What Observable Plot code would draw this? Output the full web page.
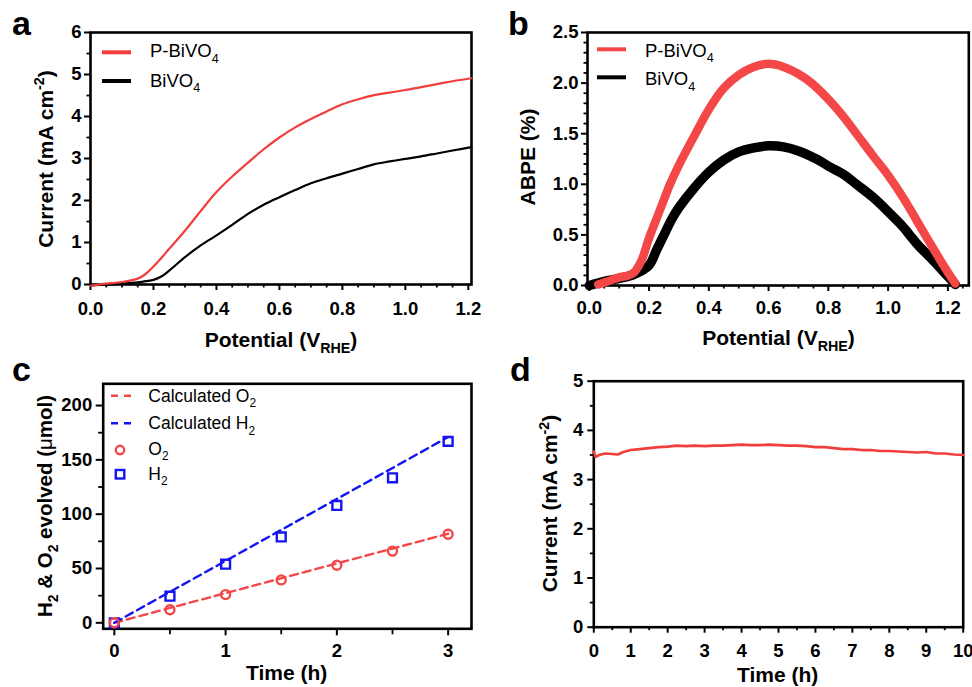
<!DOCTYPE html>
<html><head><meta charset="utf-8">
<script src="https://cdn.jsdelivr.net/npm/d3@7"></script>
<script src="https://cdn.jsdelivr.net/npm/@observablehq/plot@0.6"></script>
<style>
body{margin:0;background:#fff;}
#fig{position:relative;width:972px;height:687px;overflow:hidden;background:#fff;}
#fig svg{position:absolute;left:0;top:0;}
</style></head><body><div id="fig"></div><script>
// ---------- Panel a: J-V curves ----------
const potA = [0, 0.05, 0.1, 0.15, 0.175, 0.2, 0.225, 0.25, 0.3, 0.35, 0.4, 0.45, 0.5, 0.55, 0.6, 0.65, 0.7, 0.75, 0.8, 0.85, 0.9, 0.95, 1.0, 1.05, 1.1, 1.15, 1.21];
const currentP = [-0.03, 0.02, 0.06, 0.14, 0.25, 0.43, 0.63, 0.85, 1.28, 1.75, 2.2, 2.57, 2.9, 3.22, 3.5, 3.74, 3.94, 4.12, 4.29, 4.41, 4.51, 4.57, 4.63, 4.7, 4.77, 4.84, 4.91];
const currentB = [-0.02, 0.0, 0.02, 0.05, 0.08, 0.11, 0.19, 0.33, 0.65, 0.93, 1.17, 1.42, 1.68, 1.9, 2.08, 2.25, 2.41, 2.53, 2.64, 2.75, 2.86, 2.93, 2.99, 3.05, 3.12, 3.19, 3.27];

// ---------- Panel b: ABPE ----------
const potBP = [0.03, 0.07, 0.1, 0.13, 0.15, 0.175, 0.2, 0.225, 0.25, 0.27, 0.3, 0.35, 0.4, 0.45, 0.5, 0.55, 0.6, 0.65, 0.7, 0.744, 0.8, 0.85, 0.894, 0.95, 1.0, 1.05, 1.1, 1.15, 1.2, 1.225];
const abpeP = [0.01, 0.05, 0.08, 0.1, 0.13, 0.25, 0.47, 0.66, 0.85, 1.0, 1.19, 1.47, 1.74, 1.95, 2.08, 2.16, 2.19, 2.16, 2.09, 2.0, 1.84, 1.67, 1.5, 1.28, 1.09, 0.87, 0.62, 0.37, 0.13, 0.02];
const potBB = [0.0, 0.05, 0.1, 0.15, 0.2, 0.225, 0.25, 0.275, 0.3, 0.35, 0.4, 0.45, 0.5, 0.55, 0.6, 0.65, 0.7, 0.76, 0.8, 0.85, 0.894, 0.95, 1.0, 1.05, 1.072, 1.1, 1.15, 1.2, 1.225];
const abpeB = [0.0, 0.04, 0.07, 0.11, 0.2, 0.35, 0.5, 0.65, 0.77, 0.96, 1.12, 1.24, 1.32, 1.36, 1.38, 1.37, 1.33, 1.25, 1.18, 1.1, 1.0, 0.87, 0.73, 0.58, 0.5, 0.4, 0.25, 0.09, 0.01];

// ---------- Panel c: gas evolution ----------
const timeC = [0, 0.5, 1, 1.5, 2, 2.5, 3];
const o2Measured = [0, 12, 26, 39.5, 53, 66, 81.5];
const h2Measured = [0, 24.5, 54, 79, 108, 133.5, 167];
const calcTime = [0, 3];
const o2Calc = [0, 82];
const h2Calc = [0, 171];

// ---------- Panel d: stability ----------
const timeD = [0, 0.05, 0.15, 0.3, 0.5, 0.65, 0.8, 1.0, 1.25, 1.5, 1.75, 2.0, 2.25, 2.5, 2.75, 3.0, 3.25, 3.5, 3.75, 4.0, 4.25, 4.5, 4.75, 5.0, 5.25, 5.5, 5.75, 6.0, 6.25, 6.5, 6.75, 7.0, 7.25, 7.5, 7.75, 8.0, 8.25, 8.5, 8.75, 9.0, 9.25, 9.5, 9.75, 10.0];
const currentD = [3.57, 3.46, 3.5, 3.53, 3.52, 3.51, 3.56, 3.6, 3.62, 3.64, 3.66, 3.67, 3.69, 3.68, 3.69, 3.68, 3.69, 3.69, 3.7, 3.71, 3.7, 3.7, 3.71, 3.7, 3.69, 3.69, 3.68, 3.66, 3.66, 3.64, 3.62, 3.62, 3.6, 3.6, 3.58, 3.58, 3.57, 3.56, 3.55, 3.56, 3.53, 3.53, 3.51, 3.5];

// tick values
const ticksA_x = [0, 0.2, 0.4, 0.6, 0.8, 1.0, 1.2];
const ticksA_xm = d3.range(0, 1.21, 0.05).filter(v => Math.abs(v*5 - Math.round(v*5)) > 1e-6);
const ticksB_xm = d3.range(0.05, 1.27, 0.05).filter(v => Math.abs(v*5 - Math.round(v*5)) > 1e-6);
const ticksA_y = [0, 1, 2, 3, 4, 5, 6];
const ticksA_ym = [0.5, 1.5, 2.5, 3.5, 4.5, 5.5];
const ticksB_y = [0, 0.5, 1.0, 1.5, 2.0, 2.5];
const ticksB_ym = d3.range(0.1, 2.5, 0.1).filter(v => Math.abs(v*2 - Math.round(v*2)) > 1e-6);
const ticksC_x = [0, 1, 2, 3];
const ticksC_xm = [0.5, 1.5, 2.5];
const ticksC_y = [0, 50, 100, 150, 200];
const ticksC_ym = [25, 75, 125, 175];
const ticksD_x = [0, 1, 2, 3, 4, 5, 6, 7, 8, 9, 10];
const ticksD_xm = [0.5, 1.5, 2.5, 3.5, 4.5, 5.5, 6.5, 7.5, 8.5, 9.5];
const ticksD_y = [0, 1, 2, 3, 4, 5];
const ticksD_ym = [0.5, 1.5, 2.5, 3.5, 4.5];

const FONT = '"Liberation Sans", Arial, Helvetica, sans-serif';
const RED = "#f23d3d", RED2 = "#f44848", BLUE = "#1414f0";

function panel(o) {
  return Plot.plot({
    width: 972, height: 687,
    marginLeft: o.ml, marginRight: o.mr, marginTop: o.mt, marginBottom: o.mb,
    style: {fontFamily: FONT, fontSize: "18px", fontWeight: "bold", background: "transparent", overflow: "visible", color: "black"},
    x: {domain: o.xd, label: null},
    y: {domain: o.yd, label: null},
    marks: [
      Plot.axisX({ticks: o.xm, tickSize: o.xt[2], tickFormat: () => "", strokeWidth: 1.8, label: null}),
      Plot.axisX({ticks: o.xM, tickSize: o.xt[0], tickPadding: o.xt[1], tickFormat: o.xf, strokeWidth: 2, label: null, fontSize: 18, fontWeight: "bold"}),
      Plot.axisY({ticks: o.ym, tickSize: o.yt[2], tickFormat: () => "", strokeWidth: 1.8, label: null}),
      Plot.axisY({ticks: o.yM, tickSize: o.yt[0], tickPadding: o.yt[1], tickFormat: o.yf, strokeWidth: 2, label: null, fontSize: 18, fontWeight: "bold"}),
      Plot.frame({stroke: "black", strokeWidth: 2.6}),
      ...o.marks
    ]
  });
}

const fig = document.getElementById("fig");
const f1 = d => d.toFixed(1);
const f0 = d => String(d);

fig.appendChild(panel({
  ml: 90, mr: 501, mt: 32, mb: 403, xd: [0, 1.21], yd: [0, 6],
  xM: ticksA_x, xm: ticksA_xm, yM: ticksA_y, ym: ticksA_ym, xf: f1, yf: f0,
  xt: [6, 11, 3.5], yt: [6, 3, 3.5],
  marks: [
    Plot.line(currentB, {x: potA, y: currentB, stroke: "black", strokeWidth: 2.2, curve: "catmull-rom"}),
    Plot.line(currentP, {x: potA, y: currentP, stroke: RED, strokeWidth: 2.2, curve: "catmull-rom"})
  ]
}));

fig.appendChild(panel({
  ml: 587, mr: 3.7, mt: 32, mb: 402, xd: [-0.006, 1.27], yd: [0, 2.5],
  xM: ticksA_x, xm: ticksB_xm, yM: ticksB_y, ym: ticksB_ym, xf: f1, yf: f1,
  xt: [6, 9, 3.5], yt: [6, 3, 3.5],
  marks: [
    Plot.line(abpeB, {x: potBB, y: abpeB, stroke: "black", strokeWidth: 9.5, curve: "catmull-rom", strokeLinecap: "round", strokeLinejoin: "round"}),
    Plot.line(abpeP, {x: potBP, y: abpeP, stroke: RED2, strokeWidth: 8.5, curve: "catmull-rom", strokeLinecap: "round", strokeLinejoin: "round"})
  ]
}));

fig.appendChild(panel({
  ml: 102.7, mr: 501, mt: 383.3, mb: 58.7, xd: [-0.1, 3.21], yd: [-5.5, 220],
  xM: ticksC_x, xm: ticksC_xm, yM: ticksC_y, ym: ticksC_ym, xf: f0, yf: f0,
  xt: [7, 8, 6], yt: [7, 4, 4.5],
  marks: [
    Plot.line(o2Calc, {x: calcTime, y: o2Calc, stroke: RED2, strokeWidth: 2.4, strokeDasharray: "8,5"}),
    Plot.line(h2Calc, {x: calcTime, y: h2Calc, stroke: BLUE, strokeWidth: 2.4, strokeDasharray: "8,5"}),
    Plot.dot(h2Measured, {x: timeC, y: h2Measured, symbol: "square", r: 5, stroke: BLUE, strokeWidth: 2.4, fill: "none"}),
    Plot.dot(o2Measured, {x: timeC, y: o2Measured, symbol: "circle", r: 4.5, stroke: RED2, strokeWidth: 2.4, fill: "none"})
  ]
}));

fig.appendChild(panel({
  ml: 593.3, mr: 9.3, mt: 380.7, mb: 60.3, xd: [0, 10], yd: [0, 5],
  xM: ticksD_x, xm: ticksD_xm, yM: ticksD_y, ym: ticksD_ym, xf: f0, yf: f0,
  xt: [6, 10.5, 3.5], yt: [6, 4.5, 3.5],
  marks: [
    Plot.line(currentD, {x: timeD, y: currentD, stroke: RED, strokeWidth: 2.6})
  ]
}));

// force tick-label font on every Plot-generated text
d3.selectAll("#fig svg text").style("font-size", "18.5px").style("font-weight", "bold").style("font-family", FONT);

// ---------- overlay: titles, legends, panel letters ----------
const ov = d3.select("#fig").append("svg").attr("width", 972).attr("height", 687).style("font-family", FONT);
function label(x, y, parts, opt = {}) {
  const size = opt.size || 21, weight = opt.weight || "bold";
  const t = ov.append("text").attr("font-size", size).attr("font-weight", weight)
    .attr("text-anchor", opt.anchor || "middle").attr("fill", "black");
  if (opt.rotate) t.attr("transform", `translate(${x},${y}) rotate(-90)`);
  else t.attr("x", x).attr("y", y);
  let shift = 0;
  for (const [s, kind] of parts) {
    const ts = t.append("tspan").text(s);
    const target = kind === "sub" ? size * 0.3 : kind === "sup" ? -size * 0.4 : 0;
    const dy = target - shift;
    if (dy) ts.attr("dy", dy);
    shift = target;
    if (kind === "sub" || kind === "sup") ts.attr("font-size", size * 0.68);
    if (kind === "reg") ts.attr("font-weight", "normal");
  }
}

// panel letters
label(12, 35, [["a"]], {size: 34, anchor: "start"});
label(508, 35, [["b"]], {size: 34, anchor: "start"});
label(12, 381, [["c"]], {size: 34, anchor: "start"});
label(510, 381, [["d"]], {size: 34, anchor: "start"});

// axis titles
const curLab = [["Current (mA cm"], ["-2", "sup"], [")"]];
label(52.7, 159, curLab, {rotate: true});
label(281, 347, [["Potential (V"], ["RHE", "sub"], [")"]]);
label(535.3, 157, [["ABPE (%)"]], {rotate: true});
label(778.5, 345, [["Potential (V"], ["RHE", "sub"], [")"]]);
label(51.7, 506, [["H"], ["2", "sub"], [" & O"], ["2", "sub"], [" evolved ("], ["\u03bc", "reg"], ["mol)"]], {rotate: true, size: 20.5});
label(286.7, 680, [["Time (h)"]]);
label(557, 503.5, curLab, {rotate: true});
label(777.7, 682, [["Time (h)"]]);

// legends panel a
const LS = 18.5;
ov.append("line").attr("x1", 102).attr("x2", 131).attr("y1", 52.3).attr("y2", 52.3).attr("stroke", RED).attr("stroke-width", 4);
ov.append("line").attr("x1", 102).attr("x2", 131).attr("y1", 81).attr("y2", 81).attr("stroke", "black").attr("stroke-width", 4);
label(150, 57.3, [["P-BiVO"], ["4", "sub"]], {size: LS, weight: "normal", anchor: "start"});
label(150, 86.7, [["BiVO"], ["4", "sub"]], {size: LS, weight: "normal", anchor: "start"});
// legends panel b
ov.append("line").attr("x1", 597).attr("x2", 626).attr("y1", 49.3).attr("y2", 49.3).attr("stroke", RED2).attr("stroke-width", 4);
ov.append("line").attr("x1", 597).attr("x2", 626).attr("y1", 77.3).attr("y2", 77.3).attr("stroke", "black").attr("stroke-width", 4);
label(645, 56.7, [["P-BiVO"], ["4", "sub"]], {size: LS, weight: "normal", anchor: "start"});
label(645, 85.3, [["BiVO"], ["4", "sub"]], {size: LS, weight: "normal", anchor: "start"});
// legends panel c
const LC = 17.5;
ov.append("line").attr("x1", 111).attr("x2", 132).attr("y1", 395.7).attr("y2", 395.7).attr("stroke", RED2).attr("stroke-width", 2.4).attr("stroke-dasharray", "7,6");
ov.append("line").attr("x1", 111).attr("x2", 132).attr("y1", 423.3).attr("y2", 423.3).attr("stroke", BLUE).attr("stroke-width", 2.4).attr("stroke-dasharray", "7,6");
ov.append("circle").attr("cx", 120).attr("cy", 450).attr("r", 4.2).attr("fill", "none").attr("stroke", RED2).attr("stroke-width", 2.4);
ov.append("rect").attr("x", 115.8).attr("y", 470).attr("width", 8.5).attr("height", 8.5).attr("fill", "none").attr("stroke", BLUE).attr("stroke-width", 2.4);
label(148.3, 401.7, [["Calculated O"], ["2", "sub"]], {size: LC, weight: "normal", anchor: "start"});
label(148.3, 429.3, [["Calculated H"], ["2", "sub"]], {size: LC, weight: "normal", anchor: "start"});
label(148.3, 455, [["O"], ["2", "sub"]], {size: LC, weight: "normal", anchor: "start"});
label(148.3, 480, [["H"], ["2", "sub"]], {size: LC, weight: "normal", anchor: "start"});
</script></body></html>
